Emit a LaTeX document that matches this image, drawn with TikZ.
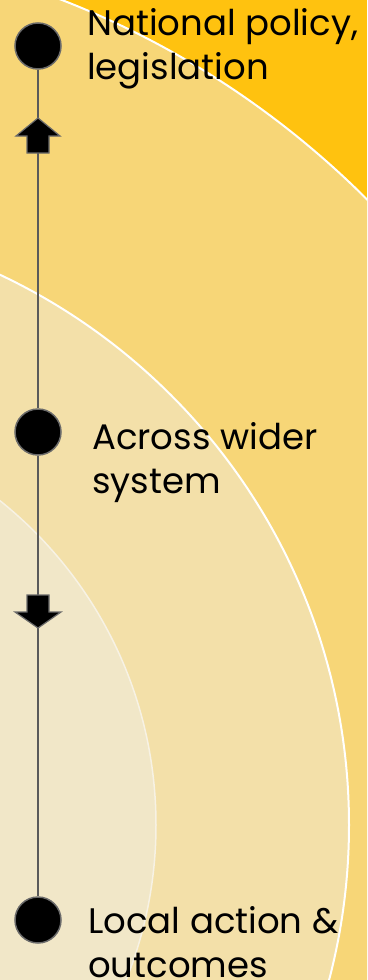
\documentclass[tikz,border=0pt]{standalone}
\usepackage{fontspec}
\setmainfont{Poppins}
\usetikzlibrary{positioning}
\definecolor{amber}{HTML}{FFC20F}
\definecolor{sand}{HTML}{F7D677}
\definecolor{wheat}{HTML}{F3E0A9}
\definecolor{pale}{HTML}{F1E7C8}
\definecolor{rimline}{HTML}{F7F2E4}
\definecolor{linegray}{HTML}{5A5A5A}
\definecolor{dotgray}{HTML}{6A6A6A}

\begin{document}
\begin{tikzpicture}[x=1pt, y=-1pt,
  stage/.style={circle, fill=black, draw=dotgray, line width=1.5pt,
    minimum size=46pt, inner sep=0pt},
  stagetext/.style={anchor=base west, inner sep=0pt, align=left,
    font=\fontsize{35.5}{44}\selectfont, text=black},
  link/.style={draw=linegray, line width=1.6pt},
  blockarrow/.style={fill=black, draw=dotgray, line width=1.2pt, line join=miter}]

\useasboundingbox (0,0) rectangle (367,980);

% Rings, centred off the page to the lower left
\begin{scope}
\clip (0,0) rectangle (367,980);
\fill[amber] (0,0) rectangle (367,980);
\fill[sand]  (-259,825) circle[radius=885pt];
\fill[wheat] (-259,825) circle[radius=608pt];
\fill[pale]  (-259,825) circle[radius=415pt];
\draw[white, line width=2pt]     (-259,825) circle[radius=885pt];
\draw[white, line width=2pt]     (-259,825) circle[radius=608pt];
\draw[rimline, line width=1.5pt] (-259,825) circle[radius=415pt];
\end{scope}

% Stages
\node[stage] (national) at (38,46) {};
\node[stage] (wider) at (38,432) {};
\node[stage] (local) at (38,920) {};

\draw[link] (national) -- (wider);
\draw[link] (wider) -- (local);

% Up arrow (towards national)
\draw[blockarrow] (38,118) -- (60,136) -- (49,136) -- (49,153)
  -- (27,153) -- (27,136) -- (16,136) -- cycle;
% Down arrow (towards local)
\draw[blockarrow] (27,595) -- (49,595) -- (49,612) -- (61,612)
  -- (38,628) -- (15,612) -- (27,612) -- cycle;

% Labels (base anchor sits on the last line)
\node[stagetext] (nationaltext) at (87,79) {National policy,\\legislation};
\node[stagetext] (widertext) at (92,493) {Across wider\\system};
\node[stagetext] (localtext) at (88,977) {Local action \&\\outcomes};

\end{tikzpicture}
\end{document}
